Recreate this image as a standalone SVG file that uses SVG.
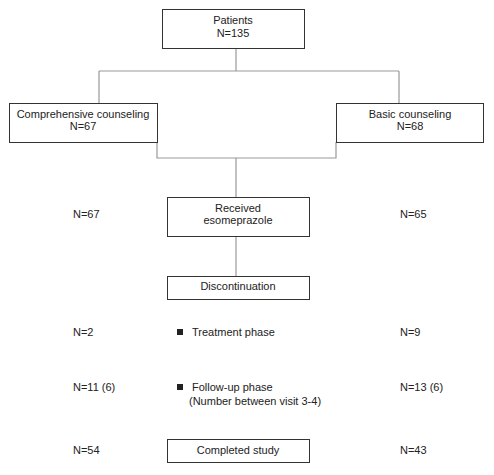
<svg xmlns="http://www.w3.org/2000/svg" width="494" height="475" viewBox="0 0 494 475">
<style>
text{font-family:"Liberation Sans",Arial,sans-serif;font-size:11px;fill:#222}
.c{text-anchor:middle}
.box{fill:#fff;stroke:#333;stroke-width:1}
.ln{fill:none;stroke:#999;stroke-width:1.2}
</style>
<rect width="494" height="475" fill="#fff"/>
<g id="connectors">
<path class="ln" d="M236 48V71M99 71H399M99 71V103M399 71V103"/>
<path class="ln" d="M157 142V158H336V142M236 158V197"/>
<path class="ln" d="M236 236V276"/>
</g>
<g id="patients"><rect class="box" x="162.5" y="9.5" width="142" height="39"/><text class="c" x="233" y="24">Patients</text><text class="c" x="233" y="37">N=135</text></g>
<g id="comprehensive"><rect class="box" x="9.5" y="103.5" width="148" height="39"/><text class="c" x="83" y="118">Comprehensive counseling</text><text class="c" x="83" y="130">N=67</text></g>
<g id="basic"><rect class="box" x="336.5" y="103.5" width="147" height="39"/><text class="c" x="410" y="118">Basic counseling</text><text class="c" x="410" y="130">N=68</text></g>
<g id="received"><rect class="box" x="167.5" y="197.5" width="142" height="39"/><text class="c" x="238" y="212">Received</text><text class="c" x="238" y="224">esomeprazole</text></g>
<g id="discontinuation"><rect class="box" x="167.5" y="276.5" width="142" height="23"/><text class="c" x="238" y="290">Discontinuation</text></g>
<g id="completed"><rect class="box" x="167.5" y="439.5" width="142" height="23"/><text class="c" x="238" y="454">Completed study</text></g>
<g id="counts">
<text x="73" y="218">N=67</text><text x="400" y="218">N=65</text>
<text x="73" y="336">N=2</text><text x="400" y="336">N=9</text>
<text x="73" y="391">N=11 (6)</text><text x="400" y="391">N=13 (6)</text>
<text x="73" y="454">N=54</text><text x="400" y="454">N=43</text>
</g>
<g id="phases">
<rect x="177" y="329" width="6" height="6" fill="#222"/><text x="192" y="336">Treatment phase</text>
<rect x="177" y="384" width="6" height="6" fill="#222"/><text x="192" y="391">Follow-up phase</text>
<text x="189" y="405">(Number between visit 3-4)</text>
</g>
</svg>
